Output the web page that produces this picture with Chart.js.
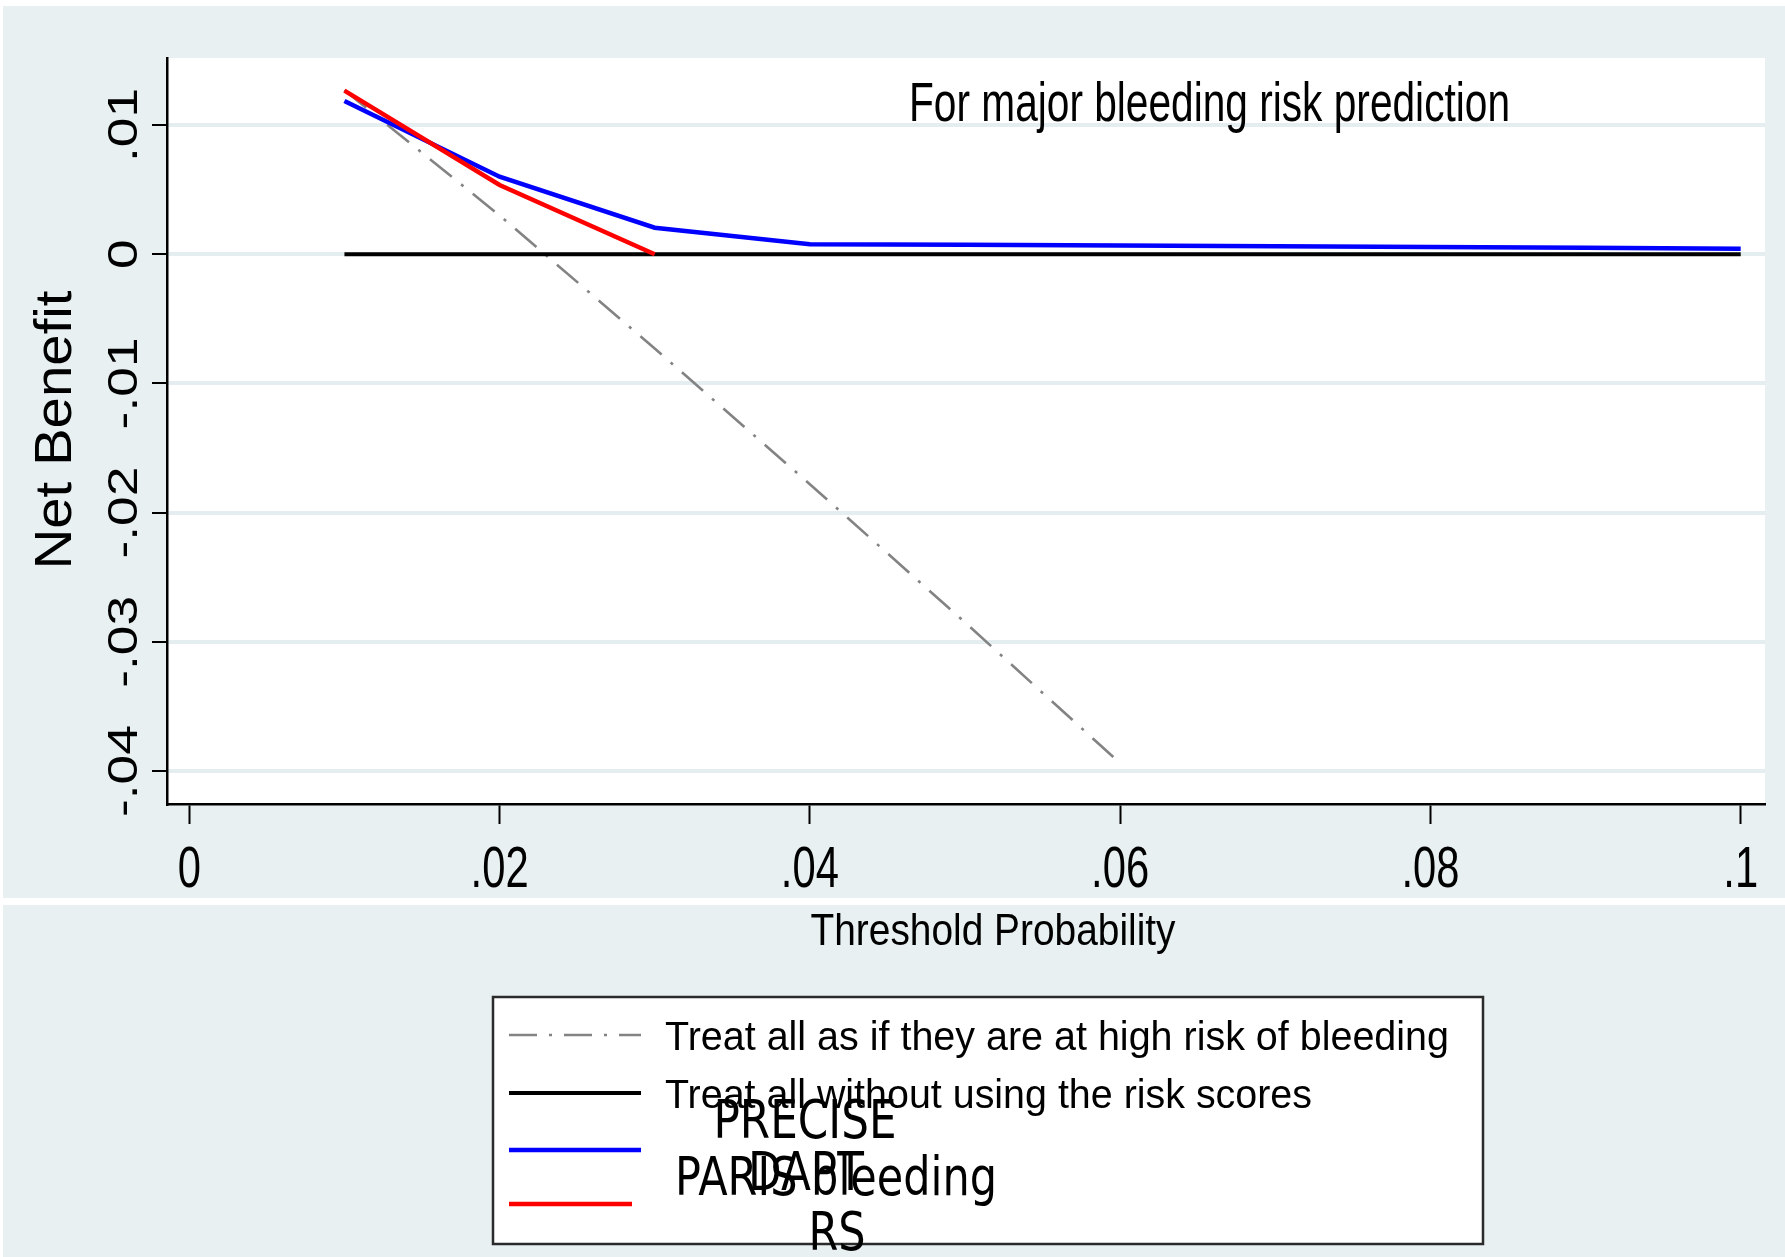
<!DOCTYPE html>
<html><head><meta charset="utf-8">
<script src="https://cdn.jsdelivr.net/npm/chart.js@4/dist/chart.umd.min.js"></script>
<style>html,body{margin:0;padding:0;background:#fff;}canvas{display:block;}</style>
</head><body>
<canvas id="c" width="1785" height="1257"></canvas>
<script>
// ---- data ----
const thresholds = [0.01, 0.02, 0.03, 0.04, 0.05, 0.06, 0.07, 0.08, 0.09, 0.10];
const treatAllValues = [0.0127, 0.0030, -0.0073, -0.0178, -0.0285, -0.0394];
const treatNoneValues = [0, 0, 0, 0, 0, 0, 0, 0, 0, 0];
const preciseDaptValues = [0.01186, 0.0060, 0.00205, 0.00077, 0.00073, 0.00068, 0.00062, 0.00056, 0.00050, 0.00043];
const parisBleedingValues = [0.01266, 0.00536, 0.0];
const seriesNames = [
  'Treat all as if they are at high risk of bleeding',
  'Treat all without using the risk scores',
  'PRECISE DAPT',
  'PARIS bleeding RS'
];
const xTickValues = [0, 0.02, 0.04, 0.06, 0.08, 0.1];
const xTickLabels = ['0', '.02', '.04', '.06', '.08', '.1'];
const yTickValues = [-0.04, -0.03, -0.02, -0.01, 0, 0.01];
const yTickLabels = ['-.04', '-.03', '-.02', '-.01', '0', '.01'];
const titleText = 'For major bleeding risk prediction';
const xTitleText = 'Threshold Probability';
const yTitleText = 'Net Benefit';

const pts = (xs, ys) => ys.map((y, i) => ({x: xs[i], y: y}));
const SANS = '"Liberation Sans", Arial, sans-serif';
const BG = '#e8f0f2';

function drawFit(ctx, text, font, x, y, w, align) {
  ctx.save();
  ctx.font = font;
  const s = w / ctx.measureText(text).width;
  ctx.translate(x, y);
  ctx.scale(s, 1);
  ctx.textAlign = align;
  ctx.textBaseline = 'alphabetic';
  ctx.fillText(text, 0, 0);
  ctx.restore();
  return s;
}
function drawScaled(ctx, text, font, x, y, s, align) {
  ctx.save();
  ctx.font = font;
  ctx.translate(x, y);
  ctx.scale(s, 1);
  ctx.textAlign = align;
  ctx.textBaseline = 'alphabetic';
  ctx.fillText(text, 0, 0);
  ctx.restore();
}
function drawRot(ctx, text, font, x, y, s) {
  ctx.save();
  ctx.font = font;
  ctx.translate(x, y);
  ctx.rotate(-Math.PI / 2);
  ctx.scale(s, 1);
  ctx.textAlign = 'center';
  ctx.textBaseline = 'alphabetic';
  ctx.fillText(text, 0, 0);
  ctx.restore();
}

const bgPlugin = {
  id: 'bg',
  beforeDraw(chart) {
    const ctx = chart.ctx, a = chart.chartArea;
    ctx.save();
    ctx.fillStyle = '#ffffff';
    ctx.fillRect(0, 0, chart.width, chart.height);
    ctx.fillStyle = BG;
    ctx.fillRect(3, 6, chart.width - 3, 892);
    ctx.fillRect(3, 905, chart.width - 3, chart.height - 905);
    ctx.fillStyle = '#ffffff';
    ctx.fillRect(a.left, a.top, a.right - a.left, a.bottom - a.top);
    ctx.restore();
  }
};

const textPlugin = {
  id: 'texts',
  afterDraw(chart) {
    const ctx = chart.ctx;
    const xs = chart.scales.x, ys = chart.scales.y;
    ctx.save();
    ctx.fillStyle = '#000';
    // title
    drawFit(ctx, titleText, '56px ' + SANS, 909, 121, 601, 'left');
    // x tick labels
    xTickValues.forEach((v, i) => {
      drawScaled(ctx, xTickLabels[i], '58px ' + SANS, xs.getPixelForValue(v), 887, 0.72, 'center');
    });
    // y tick labels (rotated)
    ctx.font = '42px ' + SANS;
    const ys_s = 92 / ctx.measureText('-.04').width;
    yTickValues.forEach((v, i) => {
      drawRot(ctx, yTickLabels[i], '42px ' + SANS, 137, ys.getPixelForValue(v), ys_s);
    });
    // axis titles
    drawFit(ctx, xTitleText, '45px ' + SANS, 993, 945, 365, 'center');
    ctx.font = '52px ' + SANS;
    drawRot(ctx, yTitleText, '52px ' + SANS, 71, 430, 279 / ctx.measureText(yTitleText).width);

    // legend
    ctx.fillStyle = '#ffffff';
    ctx.fillRect(493, 997, 990, 247);
    ctx.strokeStyle = '#2a2a2a';
    ctx.lineWidth = 2.5;
    ctx.strokeRect(493, 997, 990, 247);
    const ds = chart.data.datasets;
    const sampleY = [1035, 1093, 1150, 1204];
    const sampleR = [641, 641, 641, 632];
    ds.forEach((d, i) => {
      ctx.save();
      ctx.strokeStyle = d.borderColor;
      ctx.lineWidth = d.borderWidth;
      ctx.setLineDash(d.borderDash || []);
      ctx.beginPath();
      ctx.moveTo(509, sampleY[i]);
      ctx.lineTo(sampleR[i], sampleY[i]);
      ctx.stroke();
      ctx.restore();
    });
    ctx.fillStyle = '#000';
    drawFit(ctx, seriesNames[0], '41px ' + SANS, 665, 1050, 784, 'left');
    drawFit(ctx, seriesNames[1], '41px ' + SANS, 665, 1108, 647, 'left');
    const DV = '53px "DejaVu Sans", sans-serif';
    const p = seriesNames[2].split(' ');
    const s1 = drawFit(ctx, p[0], DV, 805, 1138, 183, 'center');
    drawScaled(ctx, p.slice(1).join(' '), DV, 806, 1190, s1, 'center');
    const q = seriesNames[3].split(' ');
    const s2 = drawFit(ctx, q.slice(0, 2).join(' '), DV, 836, 1195, 322, 'center');
    drawScaled(ctx, q.slice(2).join(' '), DV, 837, 1250, s2, 'center');
    ctx.restore();
  }
};

new Chart(document.getElementById('c'), {
  type: 'line',
  data: {
    datasets: [
      {label: seriesNames[0], data: pts(thresholds, treatAllValues), borderColor: '#838383', borderWidth: 2.6,
       borderDash: [28, 12, 3, 12], pointRadius: 0, fill: false, tension: 0, order: 3},
      {label: seriesNames[1], data: pts(thresholds, treatNoneValues), borderColor: '#000000', borderWidth: 4,
       pointRadius: 0, fill: false, tension: 0, order: 2},
      {label: seriesNames[2], data: pts(thresholds, preciseDaptValues), borderColor: '#0000ff', borderWidth: 4.5,
       pointRadius: 0, fill: false, tension: 0, order: 1},
      {label: seriesNames[3], data: pts(thresholds, parisBleedingValues), borderColor: '#ff0000', borderWidth: 4.5,
       pointRadius: 0, fill: false, tension: 0, order: 0}
    ]
  },
  options: {
    responsive: false,
    animation: false,
    devicePixelRatio: 1,
    layout: {padding: {left: 0, top: 58, right: 20, bottom: 0}},
    plugins: {legend: {display: false}, tooltip: {enabled: false}, title: {display: false}},
    scales: {
      x: {
        type: 'linear', min: -0.001437, max: 0.101566,
        afterFit(s) { s.height = 453; },
        afterBuildTicks(s) { s.ticks = xTickValues.map(v => ({value: v})); },
        ticks: {display: false},
        grid: {drawOnChartArea: false, drawTicks: true, tickLength: 20, tickColor: '#000', tickWidth: 2},
        border: {display: true, color: '#000', width: 2.5}
      },
      y: {
        type: 'linear', min: -0.042554, max: 0.015186,
        afterFit(s) { s.width = 167; },
        afterBuildTicks(s) { s.ticks = yTickValues.map(v => ({value: v})); },
        ticks: {display: false},
        grid: {color: '#e4eef1', lineWidth: 4, drawTicks: true, tickLength: 15, tickColor: '#000', tickWidth: 2},
        border: {display: true, color: '#000', width: 2.5}
      }
    }
  },
  plugins: [bgPlugin, textPlugin]
});
</script>
</body></html>
